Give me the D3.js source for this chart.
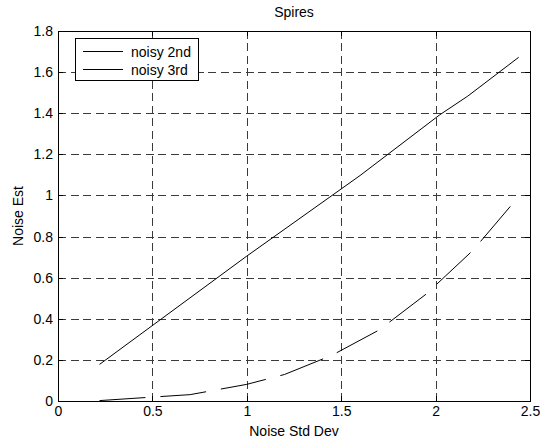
<!DOCTYPE html>
<html>
<head>
<meta charset="utf-8">
<script src="https://cdn.jsdelivr.net/npm/d3@7"></script>
<style>
  html, body { margin: 0; padding: 0; background: #fff; }
  svg { display: block; font-family: "Liberation Sans", Arial, sans-serif; }
</style>
</head>
<body>
<svg id="chart" width="543" height="442"></svg>
<script>
// Noise estimate vs. noise standard deviation
const noisy2ndX = [0.22, 1.0, 1.6, 2.02, 2.17, 2.44];
const noisy2ndY = [0.178, 0.705, 1.097, 1.391, 1.483, 1.672];
const noisy3rdX = [0.22, 0.5, 0.7, 1.0, 1.2, 1.45, 1.7, 1.95, 2.2, 2.41];
const noisy3rdY = [0.002, 0.019, 0.031, 0.081, 0.129, 0.222, 0.345, 0.52, 0.735, 0.962];
const xTicks = [0, 0.5, 1, 1.5, 2, 2.5];
const yTicks = [0, 0.2, 0.4, 0.6, 0.8, 1, 1.2, 1.4, 1.6, 1.8];
const seriesNames = ["noisy 2nd", "noisy 3rd"];

const svg = d3.select("#chart");
const L = 58, R = 530, T = 31, B = 401;
const fs = 14;

const x = d3.scaleLinear().domain([0, 2.5]).range([L, R]);
const y = d3.scaleLinear().domain([0, 1.8]).range([B, T]);

// grid
const grid = svg.append("g").attr("stroke", "#3a3a3a").attr("stroke-width", 1)
  .attr("stroke-dasharray", "8,4.5").attr("shape-rendering", "crispEdges");
xTicks.slice(1, -1).forEach(t => {
  grid.append("line").attr("x1", Math.round(x(t)) + 0.5).attr("x2", Math.round(x(t)) + 0.5)
    .attr("y1", B).attr("y2", T);
});
yTicks.slice(1, -1).forEach(t => {
  grid.append("line").attr("x1", L).attr("x2", R)
    .attr("y1", Math.round(y(t)) + 0.5).attr("y2", Math.round(y(t)) + 0.5);
});

// axes (ticks inward, box on)
const tickLen = 5;
const axBottom = d3.axisBottom(x).tickValues(xTicks).tickSize(-tickLen).tickPadding(5).tickFormat(d3.format("~g"));
const axLeft = d3.axisLeft(y).tickValues(yTicks).tickSize(-tickLen).tickPadding(5).tickFormat(d3.format("~g"));
const axTop = d3.axisTop(x).tickValues(xTicks).tickSize(-tickLen).tickFormat("");
const axRight = d3.axisRight(y).tickValues(yTicks).tickSize(-tickLen).tickFormat("");

function styleAxis(g) {
  g.select(".domain").remove();
  g.selectAll("line").attr("stroke", "#000").attr("shape-rendering", "crispEdges");
  g.selectAll("text").attr("fill", "#000").style("font-size", fs + "px").style("font-family", "Liberation Sans, Arial, sans-serif");
}
svg.append("g").attr("transform", `translate(0,${B})`).call(axBottom).call(styleAxis);
svg.append("g").attr("transform", `translate(${L},0)`).call(axLeft).call(styleAxis);
svg.append("g").attr("transform", `translate(0,${T})`).call(axTop).call(styleAxis);
svg.append("g").attr("transform", `translate(${R},0)`).call(axRight).call(styleAxis);

svg.append("rect").attr("x", L + 0.5).attr("y", T + 0.5).attr("width", R - L).attr("height", B - T)
  .attr("fill", "none").attr("stroke", "#000").attr("stroke-width", 1).attr("shape-rendering", "crispEdges");

// data lines
const line = d3.line().x(d => x(d[0])).y(d => y(d[1]));
const s2 = noisy2ndX.map((v, i) => [v, noisy2ndY[i]]);
const s3 = noisy3rdX.map((v, i) => [v, noisy3rdY[i]]);
svg.append("path").datum(s2).attr("d", line).attr("fill", "none").attr("stroke", "#000").attr("stroke-width", 1);
svg.append("path").datum(s3).attr("d", line).attr("fill", "none").attr("stroke", "#000").attr("stroke-width", 1)
  .attr("stroke-dasharray", "46,15");

// title and labels
svg.append("text").attr("x", (L + R) / 2).attr("y", 17).attr("text-anchor", "middle")
  .style("font-size", fs + "px").text("Spires");
svg.append("text").attr("x", (L + R) / 2).attr("y", 436).attr("text-anchor", "middle")
  .style("font-size", fs + "px").text("Noise Std Dev");
svg.append("text").attr("transform", `translate(23,${(T + B) / 2}) rotate(-90)`).attr("text-anchor", "middle")
  .style("font-size", fs + "px").text("Noise Est");

// legend
const lg = svg.append("g");
lg.append("rect").attr("x", 75.5).attr("y", 38.5).attr("width", 123).attr("height", 42)
  .attr("fill", "#fff").attr("stroke", "#000").attr("shape-rendering", "crispEdges");
seriesNames.forEach((name, i) => {
  const yy = 51 + i * 18;
  lg.append("line").attr("x1", 83).attr("x2", 123).attr("y1", yy + 0.5).attr("y2", yy + 0.5)
    .attr("stroke", "#000").attr("shape-rendering", "crispEdges");
  lg.append("text").attr("x", 131).attr("y", yy + 5.5).style("font-size", fs + "px").text(name);
});
</script>
</body>
</html>
